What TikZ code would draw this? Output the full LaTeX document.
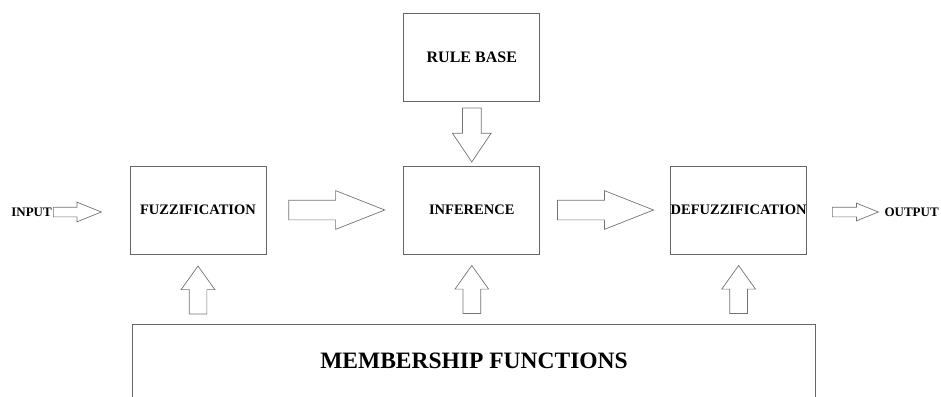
\documentclass[tikz,border=0pt]{standalone}
\usepackage{fontspec}
\setmainfont{Liberation Serif}
\usetikzlibrary{shapes,arrows,positioning,calc}

\begin{document}
\begin{tikzpicture}[x=1pt,y=1pt,
    block/.style={draw=black!60,line width=0.8pt,minimum width=136,minimum height=88,
        inner sep=0pt,font=\bfseries\fontsize{14.5}{16}\selectfont},
    fatarrow/.style={single arrow,draw=black!55,line width=0.7pt,inner sep=9.5,
        minimum height=96,single arrow head extend=9.5,single arrow tip angle=43},
    downarrow/.style={single arrow,draw=black!55,line width=0.7pt,inner sep=9,shape border rotate=270,
        minimum height=54,single arrow head extend=10,single arrow tip angle=68},
    uparrow/.style={single arrow,draw=black!55,line width=0.7pt,inner sep=8.5,shape border rotate=90,
        minimum height=48,single arrow head extend=8,single arrow tip angle=71},
    thinarrow/.style={single arrow,draw=black!55,line width=0.7pt,inner sep=4.5,
        minimum height=48,single arrow head extend=5,single arrow tip angle=44},
    io/.style={inner sep=0pt,font=\bfseries\fontsize{13}{15}\selectfont}]

% Fix the page to the reference size.
    \useasboundingbox (0,0) rectangle (941,-396);

% Main blocks.
    \node[block] (fuzz) at (198,-210) {FUZZIFICATION};
    \node[block,right=137 of fuzz] (inf) {INFERENCE};
    \node[block,right=130 of inf] (defuzz) {DEFUZZIFICATION};
    \node[block,above=64 of inf,font=\bfseries\fontsize{16}{18}\selectfont,text depth=-4] (rule) {RULE BASE};

% Membership functions, open at the bottom.
    \node[minimum width=682,minimum height=74,inner sep=0pt,anchor=north,
        font=\bfseries\fontsize{23.5}{26}\selectfont] (mf) at (474,-324) {MEMBERSHIP FUNCTIONS};
    \draw[black!60,line width=0.8pt] (mf.south west) -- (mf.north west) -- (mf.north east) -- (mf.south east);

% Input and output.
    \node[io,anchor=east] (input) at (52,-212) {INPUT};
    \node[thinarrow,right=1 of input] (inarr) {};
    \node[thinarrow,right=25 of defuzz,yshift=-2,single arrow head extend=4,minimum height=46] (outarr) {};
    \node[io,right=5 of outarr] (output) {OUTPUT};

% Block arrows between the stages.
    \node[fatarrow,right=22 of fuzz] (fi) {};
    \node[fatarrow,right=17 of inf] (id) {};
    \node[downarrow,below=6 of rule] (ri) {};

% Membership arrows up into each stage.
    \node[uparrow,below=11 of fuzz] (mfuzz) {};
    \node[uparrow,below=10.5 of inf] (minf) {};
    \node[uparrow,below=10.5 of defuzz] (mdefuzz) {};

\end{tikzpicture}
\end{document}
